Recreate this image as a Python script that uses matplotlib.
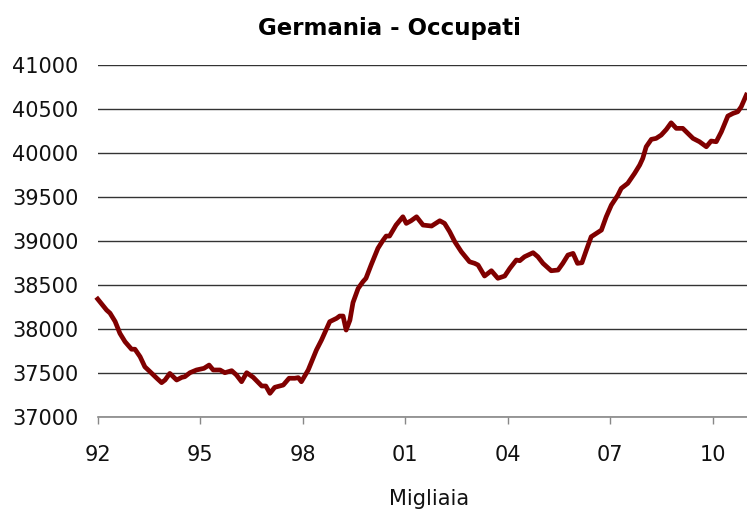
import matplotlib
matplotlib.use("Agg")
import matplotlib.pyplot as plt

# occupati in Germania (migliaia)
years = [1992.00, 1992.26, 1992.36, 1992.51, 1992.65, 1992.80, 1992.99, 1993.09,
         1993.24, 1993.38, 1993.53, 1993.73, 1993.87, 1993.97, 1994.11, 1994.31,
         1994.46, 1994.55, 1994.70, 1994.89, 1995.11, 1995.26, 1995.38, 1995.58,
         1995.72, 1995.92, 1996.06, 1996.21, 1996.36, 1996.55, 1996.80, 1996.92,
         1997.04, 1997.18, 1997.43, 1997.60, 1997.77, 1997.87, 1997.96, 1998.16,
         1998.40, 1998.55, 1998.79, 1998.99, 1999.08, 1999.18, 1999.27, 1999.38,
         1999.47, 1999.62, 1999.76, 1999.85, 2000.00, 2000.20, 2000.34, 2000.44,
         2000.54, 2000.73, 2000.93, 2001.03, 2001.17, 2001.33, 2001.52, 2001.77,
         2002.01, 2002.15, 2002.30, 2002.45, 2002.64, 2002.88, 2003.03, 2003.13,
         2003.32, 2003.52, 2003.71, 2003.91, 2004.06, 2004.25, 2004.35, 2004.49,
         2004.74, 2004.88, 2005.03, 2005.27, 2005.47, 2005.61, 2005.76, 2005.91,
         2006.04, 2006.17, 2006.30, 2006.44, 2006.74, 2006.88, 2007.03, 2007.22,
         2007.32, 2007.51, 2007.71, 2007.86, 2007.95, 2008.05, 2008.20, 2008.34,
         2008.49, 2008.64, 2008.78, 2008.93, 2009.12, 2009.27, 2009.42, 2009.61,
         2009.81, 2009.95, 2010.10, 2010.25, 2010.44, 2010.59, 2010.73, 2010.83,
         2010.98]
occupati = [38340, 38215, 38180, 38085, 37950, 37855, 37770, 37770,
            37685, 37570, 37515, 37440, 37390, 37420, 37495, 37420,
            37450, 37458, 37503, 37534, 37553, 37590, 37534, 37534,
            37503, 37526, 37477, 37401, 37503, 37451, 37352, 37352,
            37269, 37337, 37363, 37440, 37440, 37447, 37401, 37534,
            37761, 37875, 38083, 38121, 38147, 38147, 37988, 38100,
            38300, 38460, 38537, 38576, 38727, 38917, 39003, 39056,
            39056, 39181, 39275, 39200, 39230, 39275, 39181, 39170,
            39230, 39200, 39105, 38991, 38878, 38764, 38746, 38727,
            38602, 38662, 38576, 38602, 38689, 38784, 38776, 38821,
            38867, 38821, 38746, 38662, 38670, 38746, 38840, 38859,
            38746, 38753, 38897, 39048, 39124, 39275, 39408, 39520,
            39598, 39655, 39768, 39863, 39939, 40071, 40155, 40166,
            40204, 40268, 40343, 40280, 40280, 40223, 40166, 40128,
            40071, 40136, 40128, 40241, 40420, 40450, 40469, 40525,
            40658]

tick_years = [1992, 1995, 1998, 2001, 2004, 2007, 2010]
tick_labels = ["92", "95", "98", "01", "04", "07", "10"]
y_ticks = [37000, 37500, 38000, 38500, 39000, 39500, 40000, 40500, 41000]

fig = plt.figure(figsize=(7.47, 5.11), dpi=100)
ax = fig.add_axes([0.1308, 0.184, 0.8692, 0.6888])

ax.plot(years, occupati, color="#800000", linewidth=3.4, solid_joinstyle="round",
        zorder=3, clip_on=False)

ax.set_xlim(1992, 2011)
ax.set_ylim(37000, 41000)
ax.set_yticks(y_ticks)
ax.set_yticklabels([str(v) for v in y_ticks])
ax.set_xticks(tick_years)
ax.set_xticklabels(tick_labels)

ax.grid(axis="y", color="#333333", linewidth=1.0)
ax.grid(axis="x", visible=False)
ax.set_axisbelow(True)

for side in ["top", "right", "left"]:
    ax.spines[side].set_visible(False)
ax.spines["bottom"].set_color("#888888")
ax.spines["bottom"].set_linewidth(1.2)

ax.tick_params(axis="y", length=0, pad=14, labelsize=15, colors="#111111")
ax.tick_params(axis="x", length=5, width=1, color="#888888", pad=15,
               labelsize=15, labelcolor="#111111")

fig.text(0.521, 0.945, "Germania - Occupati", ha="center", va="center",
         fontsize=16.5, fontweight="bold")
fig.text(0.575, 0.012, "Migliaia", ha="center", va="baseline", fontsize=15,
         color="#111111")

fig.savefig("out.png", dpi=100)
